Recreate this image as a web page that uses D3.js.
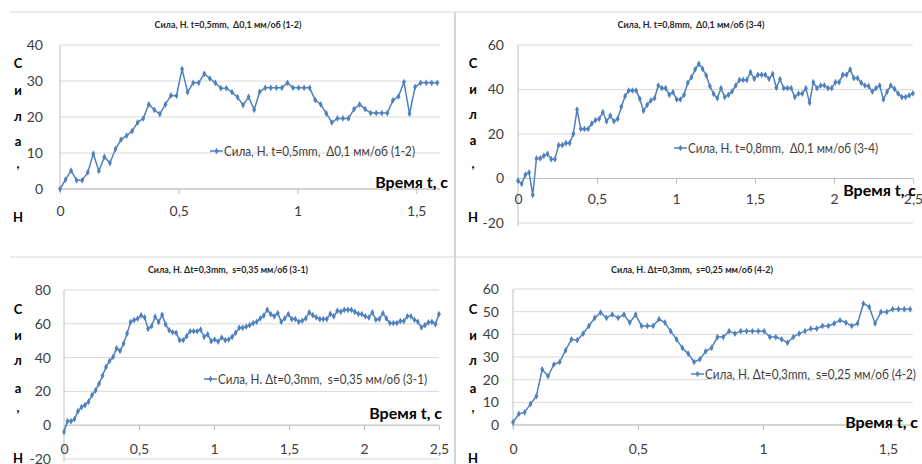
<!DOCTYPE html>
<html>
<head>
<meta charset="utf-8">
<script src="https://cdn.jsdelivr.net/npm/d3@7"></script>
<style>
  html, body { margin: 0; padding: 0; background: #fff; }
  svg { display: block; }
  text { font-family: Lato, "Open Sans", sans-serif; white-space: pre; }
</style>
</head>
<body>
<svg id="chart" width="922" height="464"></svg>
<script>
// Sampling interval of the force recordings, seconds
const SAMPLE_STEP = 0.02336;

// Force, N — run 1-2 (t=0,5mm, Δ0,1 мм/об)
const force12 = [0, 2.6, 5.1, 2.4, 2.4, 4.6, 9.8, 5.0, 8.9, 7.2,
  11.1, 13.7, 14.8, 16.1, 18.5, 19.6, 23.5, 22.0, 20.8, 23.5,
  26.0, 25.9, 33.3, 26.9, 29.5, 29.5, 32.0, 30.7, 29.5, 28.0,
  28.0, 26.9, 25.5, 23.3, 25.6, 22.0, 27.0, 28.1, 28.1, 28.1,
  28.1, 29.5, 28.1, 28.1, 28.1, 28.1, 24.7, 23.5, 21.0, 18.5,
  19.6, 19.6, 19.6, 22.2, 23.5, 22.2, 21.1, 21.1, 21.1, 21.1,
  24.6, 25.7, 29.7, 20.9, 28.3, 29.5, 29.5, 29.5, 29.5];

// Force, N — run 3-4 (t=0,8mm, Δ0,1 мм/об)
const force34 = [-1, -2.4, 1.7, 2.7, -7.4, 9, 9, 10.2, 11.1, 8.7,
  8.7, 15, 15, 15.9, 15.9, 20.1, 31, 22.3, 22.3, 22.3,
  24.7, 26.2, 26.8, 29.8, 25.7, 28.3, 25.7, 26.8, 32.2, 37,
  39.5, 39.5, 39.5, 35.8, 30.4, 33.1, 35.1, 36.1, 41.8, 40.6,
  40.6, 37.6, 38.8, 35.5, 35.5, 37.6, 43, 45.5, 49, 51.5,
  49.3, 46.3, 41.5, 38, 36.1, 40.6, 36.6, 37.6, 39.1, 41.8,
  44.3, 44.3, 44.3, 47.8, 44.8, 46.6, 46.6, 46.6, 44.8, 47,
  40.8, 44.6, 40.6, 40.6, 40.6, 36.6, 38.1, 38.1, 40.6, 34,
  43.3, 40.6, 41.8, 41.8, 40.6, 40.6, 43.3, 43.3, 46.6, 46.6,
  49, 45.1, 45.1, 43, 41.8, 41.5, 39, 40.6, 41.8, 35.5,
  39, 41.8, 40.3, 38.1, 36.6, 36.6, 37.3, 38.3];

// Force, N — run 3-1 (Δt=0,3mm, s=0,35 мм/об)
const force31 = [-4, 2.4, 2.4, 3.6, 8.3, 10.7, 11.9, 13.9, 17.8, 20.6,
  24.6, 29.3, 34.5, 38, 40.4, 45.5, 44, 48.3, 54.3, 61,
  62.2, 63, 65, 63.8, 57, 58.6, 64.2, 61, 65.3, 59.6,
  56.2, 55, 54.7, 50.3, 50.3, 52.7, 55.6, 55.6, 55.6, 56.6,
  52.3, 53.7, 49.7, 50.7, 49.5, 51.9, 50.3, 50.7, 52.3, 54.7,
  57.6, 57.6, 58.3, 59.2, 60.4, 61.2, 63.2, 64.8, 68.3, 65.7,
  64.4, 66.3, 61.2, 63.2, 65.7, 62.8, 62.8, 61.2, 61.8, 63.2,
  66.7, 65.1, 63.8, 62.8, 62.8, 62.8, 65.9, 64.4, 67.7, 67.1,
  68.3, 68.3, 68.3, 67.1, 65.9, 65.7, 64.4, 63.8, 66.7, 62.4,
  62.8, 66.3, 63.2, 60.4, 60.4, 60.4, 61.6, 61.6, 64.4, 64.4,
  62.4, 61.2, 57.8, 59.2, 60.8, 61.2, 59.8, 65.7];

// Force, N — run 4-2 (Δt=0,3mm, s=0,25 мм/об)
const force42 = [1.2, 4.9, 5.6, 9.3, 12.7, 24.5, 21.6, 26.7, 27.8, 32.9,
  37.8, 37.4, 40.3, 43.7, 47.3, 49.6, 47.3, 48.7, 47.3, 48.7,
  45.2, 48.7, 43.7, 43.7, 43.7, 46.7, 45.2, 41.4, 37.8, 34,
  31.5, 27.8, 29, 32.5, 34, 38.8, 38.8, 41.4, 40.3, 41.4,
  41.4, 41.4, 41.4, 41.4, 38.8, 38.8, 37.8, 36.3, 38.8, 40.3,
  41.4, 42.5, 42.5, 43.7, 43.7, 44.8, 46.2, 45.2, 43.7, 44.8,
  53.6, 52.1, 44.8, 49.9, 49.9, 51.1, 51.1, 51.1, 51.1];

// Chart titles (also used as legend entries)
const titles = [
  "Сила, Н. t=0,5mm,  Δ0,1 мм/об (1-2)",
  "Сила, Н. t=0,8mm,  Δ0,1 мм/об (3-4)",
  "Сила, Н. Δt=0,3mm,  s=0,35 мм/об (3-1)",
  "Сила, Н. Δt=0,3mm,  s=0,25 мм/об (4-2)"
];

// Axis ticks
const xTicksShort = [0, 0.5, 1, 1.5];
const xTicksLong = [0, 0.5, 1, 1.5, 2, 2.5];
const yTicks12 = [0, 10, 20, 30, 40];
const yTicks34 = [-20, 0, 20, 40, 60];
const yTicks31 = [-20, 0, 20, 40, 60, 80];
const yTicks42 = [0, 10, 20, 30, 40, 50, 60];

const xAxisTitle = "Время t, с";
const yAxisLetters = ["С", "и", "л", "а", ",", "Н"];

const LINE_COLOR = "#4F81BD";
const GRID_COLOR = "#D9D9D9";
const TICK_TEXT = "#404040";

// Layout of the four plots
const panels = [
  { values: force12, title: titles[0], xMax: 1.6, xTicks: xTicksShort, yTicks: yTicks12,
    left: 60, right: 440, top: 45, bottom: 189, titleX: 228, titleY: 28, titleW: 147,
    labelGap: 17, xLabelPad: 12,
    legendX: 210, legendY: 151, legendW: 191, xTitleX: 448, xTitleY: 188,
    letterX: 18, letterY: [68, 95, 121, 146, 168, 222] },
  { values: force34, title: titles[1], xMax: 2.5, xTicks: xTicksLong, yTicks: yTicks34,
    left: 518, right: 913, top: 45, bottom: 223, titleX: 691, titleY: 28, titleW: 147,
    labelGap: 14, xLabelPad: 11,
    legendX: 674, legendY: 148, legendW: 190, xTitleX: 916, xTitleY: 196,
    letterX: 473, letterY: [68, 94, 119, 145, 168, 222] },
  { values: force31, title: titles[2], xMax: 2.5, xTicks: xTicksLong, yTicks: yTicks31,
    left: 64, right: 439, top: 290, bottom: 459, titleX: 228, titleY: 273, titleW: 160,
    labelGap: 13, xLabelPad: 14,
    legendX: 204, legendY: 379, legendW: 209, xTitleX: 442, xTitleY: 419,
    letterX: 18, letterY: [314, 340, 365, 393, 412, 463] },
  { values: force42, title: titles[3], xMax: 1.6, xTicks: xTicksShort, yTicks: yTicks42,
    left: 513, right: 913, top: 289, bottom: 425, titleX: 692, titleY: 273, titleW: 162,
    labelGap: 14, xLabelPad: 14,
    legendX: 691, legendY: 374, legendW: 211, xTitleX: 918, xTitleY: 428,
    letterX: 473, letterY: [314, 340, 365, 393, 412, 463] }
];

const svg = d3.select("#chart");

// Frame separators between the plots
svg.append("line").attr("x1", 10).attr("x2", 922).attr("y1", 12).attr("y2", 12)
  .attr("stroke", "#E3E3E3").attr("stroke-width", 1.5);
svg.append("line").attr("x1", 10).attr("x2", 922).attr("y1", 257).attr("y2", 257)
  .attr("stroke", "#E3E3E3").attr("stroke-width", 1.5);
svg.append("line").attr("x1", 455).attr("x2", 455).attr("y1", 12).attr("y2", 464)
  .attr("stroke", "#D6D6D6").attr("stroke-width", 2);

const fmt = v => String(v).replace(".", ",");
const marker = d3.symbol().type(d3.symbolDiamond).size(13);

panels.forEach(p => {
  const yMin = d3.min(p.yTicks), yMax = d3.max(p.yTicks);
  const x = d3.scaleLinear().domain([0, p.xMax]).range([p.left, p.right]);
  const y = d3.scaleLinear().domain([yMin, yMax]).range([p.bottom, p.top]);
  const g = svg.append("g");

  // horizontal gridlines
  g.selectAll("line.grid").data(p.yTicks).join("line")
    .attr("class", "grid")
    .attr("x1", p.left).attr("x2", p.right)
    .attr("y1", d => y(d)).attr("y2", d => y(d))
    .attr("stroke", GRID_COLOR).attr("stroke-width", 1);

  // vertical axis line
  g.append("line").attr("x1", p.left).attr("x2", p.left)
    .attr("y1", p.top).attr("y2", p.bottom + 3)
    .attr("stroke", "#BFBFBF").attr("stroke-width", 1);

  // y tick labels
  const yAxis = g.append("g").attr("transform", `translate(${p.left},0)`)
    .call(d3.axisLeft(y).tickValues(p.yTicks).tickSize(0).tickPadding(p.labelGap).tickFormat(fmt));
  yAxis.select(".domain").remove();
  yAxis.selectAll("text").attr("fill", TICK_TEXT).style("font-size", "14px")
    .style("font-family", "Lato, sans-serif");

  // x axis crossing at zero
  const xAxis = g.append("g").attr("transform", `translate(0,${y(0)})`)
    .call(d3.axisBottom(x).tickValues(p.xTicks).tickSize(5).tickPadding(p.xLabelPad).tickFormat(fmt));
  xAxis.select(".domain").attr("stroke", "#BFBFBF").attr("d", `M${p.left},0H${p.right}`);
  xAxis.selectAll("line").attr("stroke", "#BFBFBF");
  xAxis.selectAll("text").attr("fill", TICK_TEXT).style("font-size", "14px")
    .style("font-family", "Lato, sans-serif");

  // series line and markers
  const pts = p.values.map((v, i) => [i * SAMPLE_STEP, v]);
  g.append("path").datum(pts)
    .attr("fill", "none").attr("stroke", LINE_COLOR).attr("stroke-width", 1.5)
    .attr("stroke-linejoin", "round")
    .attr("d", d3.line().x(d => x(d[0])).y(d => y(d[1])));
  g.selectAll("path.pt").data(pts).join("path")
    .attr("class", "pt")
    .attr("transform", d => `translate(${x(d[0])},${y(d[1])})`)
    .attr("d", marker).attr("fill", LINE_COLOR);

  // chart title
  g.append("text").attr("x", p.titleX).attr("y", p.titleY)
    .attr("text-anchor", "middle").attr("fill", "#262626")
    .attr("textLength", p.titleW).attr("lengthAdjust", "spacingAndGlyphs")
    .style("font-size", "10px").style("font-weight", "bold")
    .text(p.title);

  // legend entry
  g.append("line").attr("x1", p.legendX).attr("x2", p.legendX + 13)
    .attr("y1", p.legendY).attr("y2", p.legendY)
    .attr("stroke", LINE_COLOR).attr("stroke-width", 1.5);
  g.append("path").attr("transform", `translate(${p.legendX + 6.5},${p.legendY})`)
    .attr("d", marker).attr("fill", LINE_COLOR);
  g.append("text").attr("x", p.legendX + 14).attr("y", p.legendY + 5)
    .attr("fill", TICK_TEXT).style("font-size", "14px")
    .attr("textLength", p.legendW).attr("lengthAdjust", "spacingAndGlyphs")
    .text(p.title);

  // axis titles
  g.append("text").attr("x", p.xTitleX).attr("y", p.xTitleY)
    .attr("text-anchor", "end").attr("fill", "#000")
    .style("font-size", "16px").style("font-weight", "bold")
    .text(xAxisTitle);
  g.selectAll("text.ylet").data(yAxisLetters).join("text")
    .attr("class", "ylet")
    .attr("x", p.letterX).attr("y", (d, i) => p.letterY[i])
    .attr("text-anchor", "middle").attr("fill", "#000")
    .style("font-size", "13px").style("font-weight", "bold")
    .text(d => d);
});
</script>
</body>
</html>
